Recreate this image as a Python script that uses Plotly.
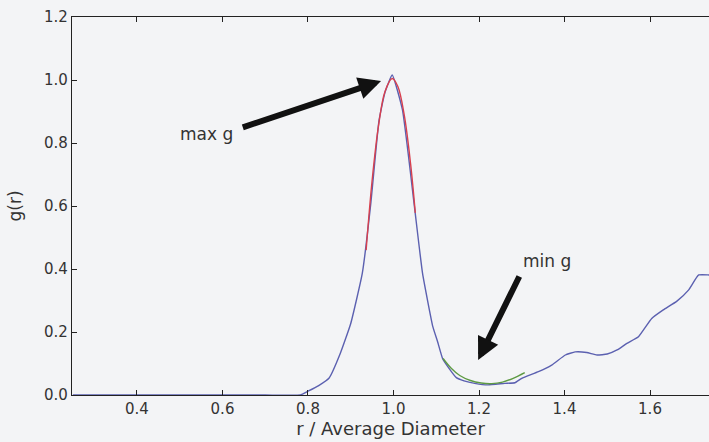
import plotly.graph_objects as go

# g(r) curve
r_vals = [0.25, 0.40, 0.60, 0.70, 0.782, 0.80, 0.825, 0.849, 0.875, 0.90, 0.927, 0.947,
          0.966, 0.98, 0.997, 1.021, 1.049, 1.068, 1.092, 1.103, 1.115, 1.127, 1.147,
          1.165, 1.19, 1.221, 1.26, 1.284, 1.30, 1.339, 1.37, 1.402, 1.425, 1.452,
          1.476, 1.50, 1.523, 1.546, 1.573, 1.604, 1.631, 1.663, 1.69, 1.714, 1.739, 1.76]
g_vals = [0.0, 0.0, 0.0, 0.0, 0.0, 0.012, 0.03, 0.053, 0.13, 0.227, 0.386, 0.609,
          0.87, 0.96, 1.016, 0.905, 0.598, 0.386, 0.217, 0.17, 0.115, 0.09, 0.055,
          0.045, 0.037, 0.032, 0.037, 0.039, 0.053, 0.074, 0.095, 0.127, 0.137, 0.135,
          0.127, 0.13, 0.143, 0.164, 0.185, 0.243, 0.27, 0.298, 0.333, 0.381, 0.381, 0.38]

# fit near the maximum (red)
max_fit_r = [0.936, 0.95, 0.965, 0.98, 0.997, 1.01, 1.025, 1.04, 1.051]
max_fit_g = [0.46, 0.681, 0.855, 0.963, 1.005, 0.98, 0.89, 0.734, 0.578]

# fit near the minimum (green)
min_fit_r = [1.116, 1.135, 1.155, 1.18, 1.205, 1.23, 1.255, 1.28, 1.307]
min_fit_g = [0.116, 0.085, 0.062, 0.046, 0.038, 0.036, 0.041, 0.053, 0.071]

x_ticks = [0.4, 0.6, 0.8, 1.0, 1.2, 1.4, 1.6]
y_ticks = [0.0, 0.2, 0.4, 0.6, 0.8, 1.0, 1.2]

fig = go.Figure()
fig.add_trace(go.Scatter(x=r_vals, y=g_vals, mode="lines", line_shape="spline",
                         line=dict(color="#5b60b0", width=1.4, smoothing=0.4),
                         showlegend=False))
fig.add_trace(go.Scatter(x=max_fit_r, y=max_fit_g, mode="lines", line_shape="spline",
                         line=dict(color="#d8404e", width=1.4), showlegend=False))
fig.add_trace(go.Scatter(x=min_fit_r, y=min_fit_g, mode="lines", line_shape="spline",
                         line=dict(color="#5e9a44", width=1.4), showlegend=False))

tick_font = dict(family="DejaVu Sans", size=15, color="#333333")
text_font = dict(family="DejaVu Sans", size=17, color="#333333")
title_font = dict(family="DejaVu Sans", size=18, color="#333333")

fig.add_annotation(x=0.971, y=0.997, ax=0.644, ay=0.848, axref="x", ayref="y",
                   xref="x", yref="y", text="", showarrow=True, arrowhead=2,
                   arrowsize=0.75, arrowwidth=6, arrowcolor="#111111")
fig.add_annotation(x=0.562, y=0.829, xref="x", yref="y", text="max g",
                   showarrow=False, font=text_font)
fig.add_annotation(x=1.198, y=0.111, ax=1.296, ay=0.381, axref="x", ayref="y",
                   xref="x", yref="y", text="", showarrow=True, arrowhead=2,
                   arrowsize=0.75, arrowwidth=6, arrowcolor="#111111")
fig.add_annotation(x=1.359, y=0.425, xref="x", yref="y", text="min g",
                   showarrow=False, font=text_font)

fig.update_layout(
    width=709, height=442,
    margin=dict(l=72, r=0, t=17, b=47),
    paper_bgcolor="#f3f4f6", plot_bgcolor="#f3f4f6",
    font=tick_font,
    xaxis=dict(range=[0.248, 1.738], tickvals=x_ticks, ticktext=[f"{v:.1f}" for v in x_ticks],
               showgrid=False, zeroline=False, showline=True, linecolor="#222222",
               linewidth=1.2, mirror="ticks", ticks="inside", ticklen=5,
               tickcolor="#222222", tickfont=tick_font,
               title=dict(text="r / Average Diameter", font=title_font, standoff=3)),
    yaxis=dict(range=[0, 1.2], tickvals=y_ticks, ticktext=[f"{v:.1f}" for v in y_ticks],
               showgrid=False, zeroline=False, showline=True, linecolor="#222222",
               linewidth=1.2, ticks="inside", ticklen=5, tickcolor="#222222",
               tickfont=tick_font,
               title=dict(text="g(r)", font=text_font, standoff=18)),
)

fig.write_html("out.html")
